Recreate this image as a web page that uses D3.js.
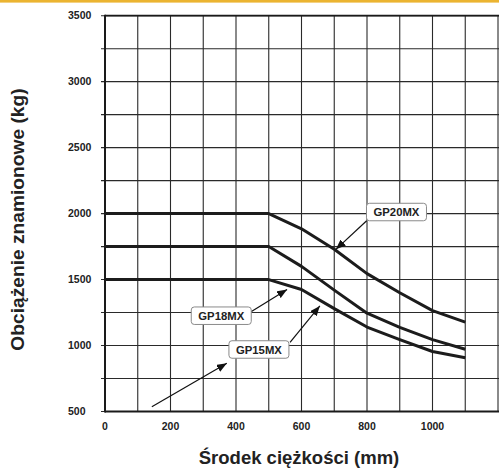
<!DOCTYPE html>
<html>
<head>
<meta charset="utf-8">
<script src="https://cdn.jsdelivr.net/npm/d3@7"></script>
<style>
  body { margin: 0; background: #fff; }
  #chart { width: 499px; height: 470px; }
</style>
</head>
<body>
<div id="chart"></div>
<script>
var FONT = '"Liberation Sans", Arial, Helvetica, sans-serif';

// Load centre (mm) and rated load (kg) per model
var centers = [0, 500, 600, 700, 800, 900, 1000, 1100];
var gp20 = [2000, 2000, 1885, 1730, 1545, 1400, 1265, 1178];
var gp18 = [1750, 1750, 1600, 1420, 1245, 1138, 1045, 972];
var gp15 = [1500, 1500, 1425, 1280, 1140, 1045, 955, 907];

var xTicks = [0, 200, 400, 600, 800, 1000];
var yTicks = [500, 1000, 1500, 2000, 2500, 3000, 3500];
var xGrid = d3.range(0, 1201, 100);
var yGrid = d3.range(500, 3501, 250);

// Callouts, anchored in data units: label centre, arrow start, arrow tip
var callouts = [
  { text: 'GP20MX', lx: 890, ly: 2012, ax: 799, ay: 1946, tx: 705, ty: 1729 },
  { text: 'GP18MX', lx: 355, ly: 1226, ax: 446, ay: 1256, tx: 556, ty: 1425 },
  { text: 'GP15MX', lx: 470, ly: 970, ax: 565, ay: 1024, tx: 656, ty: 1300 },
  { text: null, ax: 143, ay: 536, tx: 372, ty: 865 }
];

var w = 499, h = 470;
var svg = d3.select('#chart').append('svg').attr('width', w).attr('height', h);

var x = d3.scaleLinear().domain([0, 1200]).range([105, 498]);
var y = d3.scaleLinear().domain([500, 3500]).range([411.5, 15.7]);

// yellow band at top
svg.append('rect').attr('x', 0).attr('y', 0).attr('width', w).attr('height', 2.6).attr('fill', '#ebb431');

var defs = svg.append('defs');
defs.append('marker').attr('id', 'head').attr('viewBox', '0 0 10 8')
  .attr('refX', 10).attr('refY', 4).attr('markerWidth', 10).attr('markerHeight', 8)
  .attr('markerUnits', 'userSpaceOnUse').attr('orient', 'auto')
  .append('path').attr('d', 'M0,0 L10,4 L0,8 Z').attr('fill', '#111');

// Grid
svg.append('g').selectAll('line').data(xGrid).join('line')
  .attr('x1', function(d) { return x(d); }).attr('x2', function(d) { return x(d); })
  .attr('y1', y(3500)).attr('y2', y(500))
  .attr('stroke', '#2a2a2a').attr('stroke-width', 1.1);
svg.append('g').selectAll('line').data(yGrid).join('line')
  .attr('x1', x(0) - 4).attr('x2', w)
  .attr('y1', function(d) { return y(d); }).attr('y2', function(d) { return y(d); })
  .attr('stroke', '#2a2a2a').attr('stroke-width', 1.1);

// Frame: left, top, bottom
svg.append('line').attr('x1', x(0)).attr('x2', x(0)).attr('y1', y(3500) - 1).attr('y2', y(500) + 1)
  .attr('stroke', '#1a1a1a').attr('stroke-width', 2);
svg.append('line').attr('x1', x(0)).attr('x2', w).attr('y1', y(3500)).attr('y2', y(3500))
  .attr('stroke', '#1a1a1a').attr('stroke-width', 1.8);
svg.append('line').attr('x1', x(0)).attr('x2', w).attr('y1', y(500)).attr('y2', y(500))
  .attr('stroke', '#1a1a1a').attr('stroke-width', 2);

// Tick labels
svg.append('g').selectAll('text').data(yTicks).join('text')
  .attr('x', 68).attr('y', function(d) { return y(d); }).attr('dy', '0.36em')
  .attr('font-family', FONT).attr('font-weight', 'bold').attr('font-size', '10.5px').attr('fill', '#222')
  .text(function(d) { return d; });
svg.append('g').selectAll('text').data(xTicks).join('text')
  .attr('x', function(d) { return x(d); }).attr('y', 429.5).attr('text-anchor', 'middle')
  .attr('font-family', FONT).attr('font-weight', 'bold').attr('font-size', '10.5px').attr('fill', '#222')
  .text(function(d) { return d; });

// Axis titles
svg.append('text').attr('x', 299).attr('y', 463.5).attr('text-anchor', 'middle')
  .attr('font-family', FONT).attr('font-weight', 'bold').attr('font-size', '18.5px').attr('fill', '#222')
  .text('Środek ciężkości (mm)');
svg.append('text').attr('transform', 'rotate(-90)').attr('x', -219.5).attr('y', 24).attr('text-anchor', 'middle')
  .attr('font-family', FONT).attr('font-weight', 'bold').attr('font-size', '19.2px').attr('fill', '#222')
  .text('Obciążenie znamionowe (kg)');

// Curves
var line = d3.line().x(function(d, i) { return x(centers[i]); }).y(function(d) { return y(d); });
svg.append('g').selectAll('path').data([gp20, gp18, gp15]).join('path')
  .attr('d', line).attr('fill', 'none').attr('stroke', '#1c1c1c').attr('stroke-width', 3)
  .attr('stroke-linejoin', 'round');

// Callouts
callouts.forEach(function(c) {
  svg.append('line').attr('x1', x(c.ax)).attr('y1', y(c.ay)).attr('x2', x(c.tx)).attr('y2', y(c.ty))
    .attr('stroke', '#111').attr('stroke-width', 1.2).attr('marker-end', 'url(#head)');
  if (!c.text) return;
  var gl = svg.append('g');
  var box = gl.append('rect');
  gl.append('text').attr('x', x(c.lx)).attr('y', y(c.ly)).attr('dy', '0.36em').attr('text-anchor', 'middle')
    .attr('font-family', FONT).attr('font-weight', 'bold').attr('font-size', '11.3px').attr('fill', '#222')
    .text(c.text);
  var bw = 60, bh = 17.5;
  box.attr('x', x(c.lx) - bw / 2).attr('y', y(c.ly) - bh / 2).attr('width', bw).attr('height', bh)
    .attr('rx', 3).attr('fill', '#fff').attr('stroke', '#8a8a8a').attr('stroke-width', 1);
});
</script>
</body>
</html>
